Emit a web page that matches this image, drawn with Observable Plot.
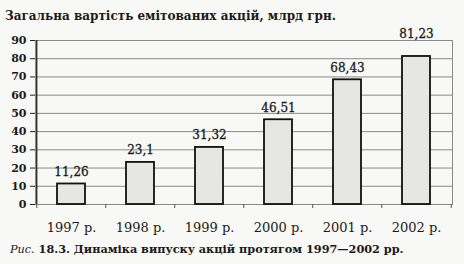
<!DOCTYPE html>
<html>
<head>
<meta charset="utf-8">
<script src="https://cdn.jsdelivr.net/npm/d3@7"></script>
<script src="https://cdn.jsdelivr.net/npm/@observablehq/plot@0.6"></script>
<style>
  html, body { margin: 0; padding: 0; background: #f8f8f6; }
  #wrap { position: relative; width: 464px; height: 264px; overflow: hidden; background: #f8f8f6; }
  #title { position: absolute; left: 5px; top: 9px; font: bold 12px "DejaVu Serif", serif; color: #1a1a1a; white-space: nowrap; }
  #caption { position: absolute; left: 10px; top: 242px; font: bold 11.25px "DejaVu Serif", serif; color: #1a1a1a; white-space: nowrap; }
  #caption i { font-weight: normal; }
  #chart { position: absolute; left: 0; top: 0; }
</style>
</head>
<body>
<div id="wrap">
  <div id="chart"></div>
  <div id="title">Загальна вартість емітованих акцій, млрд грн.</div>
  <div id="caption"><i>Рис.</i> 18.3. Динаміка випуску акцій протягом 1997—2002 рр.</div>
</div>
<script>
const categories = ["1997 р.", "1998 р.", "1999 р.", "2000 р.", "2001 р.", "2002 р."];
const values = [11.26, 23.1, 31.32, 46.51, 68.43, 81.23];
const valueLabels = ["11,26", "23,1", "31,32", "46,51", "68,43", "81,23"];
const yTicks = [0, 10, 20, 30, 40, 50, 60, 70, 80, 90];

const data = categories.map((c, i) => ({cat: c, value: values[i], label: valueLabels[i]}));

const W = 464, H = 264, mL = 35, mR = 12, mT = 40, mB = 60;
const halfStep = (W - mL - mR) / categories.length / 2;

const chart = Plot.plot({
  width: W,
  height: H,
  marginLeft: mL,
  marginRight: mR,
  marginTop: mT,
  marginBottom: mB,
  style: {background: "transparent", fontFamily: "DejaVu Serif, serif", color: "#1a1a1a"},
  x: {domain: categories, paddingInner: 0.6, paddingOuter: 0.3, label: null},
  y: {domain: [0, 90], label: null},
  marks: [
    Plot.ruleY(yTicks.slice(1), {stroke: "#8a8a8a", strokeWidth: 1}),
    Plot.ruleY([0], {stroke: "#555", strokeWidth: 1}),
    Plot.frame({stroke: "#8a8a8a", strokeWidth: 1}),
    Plot.ruleX(categories, {x: d => d, y1: 0, y2: -2.2, dx: -halfStep, stroke: "#555"}),
    Plot.ruleX([categories[categories.length - 1]], {x: d => d, y1: 0, y2: -2.2, dx: halfStep, stroke: "#555"}),
    Plot.barY(data, {x: "cat", y: "value", fill: "#e6e6e4", stroke: "#111", strokeWidth: 1.8}),
    Plot.text(data.slice(0, -1), {x: "cat", y: "value", text: "label", dy: -12, fontSize: 12, fill: "#1a1a1a", stroke: "#1a1a1a", strokeWidth: 0.3}),
    Plot.text(data.slice(-1), {x: "cat", y: "value", text: "label", dy: -22, fontSize: 12, fill: "#1a1a1a", stroke: "#1a1a1a", strokeWidth: 0.3}),
    Plot.axisY({ticks: yTicks, tickSize: 5, tickPadding: 4, fontSize: 11, fontWeight: "bold", label: null, stroke: "#222"}),
    Plot.axisX({tickSize: 0, tickPadding: 18, fontSize: 13, label: null}),
    Plot.ruleX([0], {x: () => categories[0], y1: 0, y2: 90, dx: -halfStep, stroke: "#111", strokeWidth: 1.2})
  ]
});
document.getElementById("chart").appendChild(chart);
</script>
</body>
</html>
